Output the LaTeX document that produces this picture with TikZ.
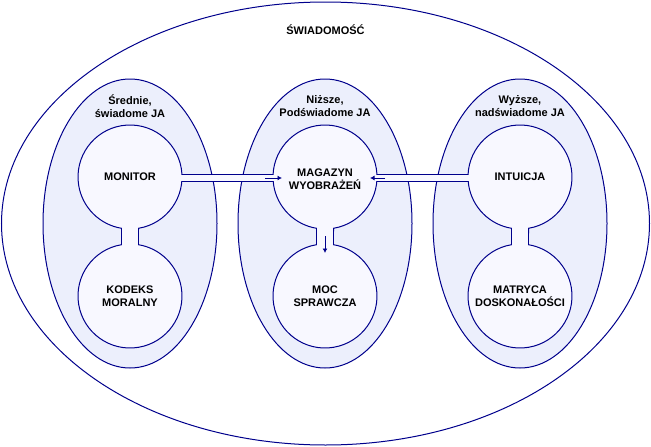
\documentclass[tikz,border=0pt]{standalone}
\usepackage{fontspec}
\setmainfont{Liberation Sans}
\usetikzlibrary{arrows.meta}
\definecolor{ln}{RGB}{0,0,140}
\definecolor{oval}{RGB}{236,239,252}
\definecolor{ball}{RGB}{248,248,255}
\begin{document}
\begin{tikzpicture}[x=1pt,y=1pt,line width=1pt,
  txt/.style={font=\fontsize{11}{13}\selectfont\bfseries,align=center,text=black,inner sep=0pt},
  ballnode/.style={circle,minimum size=104pt,inner sep=0pt,outer sep=0pt},
  ovalshape/.style={draw=ln,fill=oval},
  pairshape/.style={draw=ln,fill=ball},
  chan/.style={draw=ln},
  arr/.style={draw=ln,-{Latex[length=4.5pt,width=5pt]}}]
\useasboundingbox (0,0) rectangle (651,-447);
% outer ellipse
\draw[draw=ln,fill=white] (325.5,-223.5) ellipse [x radius=324, y radius=221.5];
\node[txt] (swiad) at (325.5,-30) {ŚWIADOMOŚĆ};
% inner ellipses
\foreach \cx in {130,325,520}{
  \draw[ovalshape] (\cx,-223.5) ellipse [x radius=87, y radius=144.5];
}
% circle pairs joined by a neck
\foreach \cx in {130,325,520}{
  \draw[pairshape] (\cx+8.5,-228.3) arc[start angle=-80.6,end angle=260.6,radius=52]
     -- (\cx-8.5,-244.7) arc[start angle=99.4,end angle=440.6,radius=52] -- cycle;
  \fill[ball] (\cx-7.9,-226) rectangle (\cx+7.9,-247);
}
% named circles
\node[ballnode] (monitor) at (130,-177) {};
\node[ballnode] (magazyn) at (325,-177) {};
\node[ballnode] (intuicja) at (520,-177) {};
\node[ballnode] (kodeks) at (130,-296) {};
\node[ballnode] (moc) at (325,-296) {};
\node[ballnode] (matryca) at (520,-296) {};
% texts
\node[txt] (t1) at (130,-106.5) {Średnie,\\świadome JA};
\node[txt] (t2) at (325,-106.5) {Niższe,\\Podświadome JA};
\node[txt] (t3) at (520,-106.5) {Wyższe,\\nadświadome JA};
\node[txt] at (monitor) {MONITOR};
\node[txt] at ([yshift=-2.5pt]magazyn.center) {MAGAZYN\\WYOBRAŻEŃ};
\node[txt] at (intuicja) {INTUICJA};
\node[txt] at (kodeks) {KODEKS\\MORALNY};
\node[txt] at (moc) {MOC\\SPRAWCZA};
\node[txt] at (matryca) {MATRYCA\\DOSKONAŁOŚCI};
% channels
\fill[ball] ([shift={(-1.5,2.25)}]monitor.east) rectangle ([shift={(1.5,-4.25)}]magazyn.west);
\draw[chan] ([yshift=2.25pt]monitor.east) -- ([yshift=2.25pt]magazyn.west);
\draw[chan] ([yshift=-4.25pt]monitor.east) -- ([yshift=-4.25pt]magazyn.west);
\fill[ball] ([shift={(1.5,2.25)}]intuicja.west) rectangle ([shift={(-1.5,-4.25)}]magazyn.east);
\draw[chan] ([yshift=2.25pt]intuicja.west) -- ([yshift=2.25pt]magazyn.east);
\draw[chan] ([yshift=-4.25pt]intuicja.west) -- ([yshift=-4.25pt]magazyn.east);
% arrows
\draw[arr] ([shift={(-8,-1)}]magazyn.west) -- ([shift={(9,-1)}]magazyn.west);
\draw[arr] ([shift={(8,-1)}]magazyn.east) -- ([shift={(-7,-1)}]magazyn.east);
\draw[arr] ([yshift=-7pt]magazyn.south) -- ([yshift=-24pt]magazyn.south);
\end{tikzpicture}
\end{document}
